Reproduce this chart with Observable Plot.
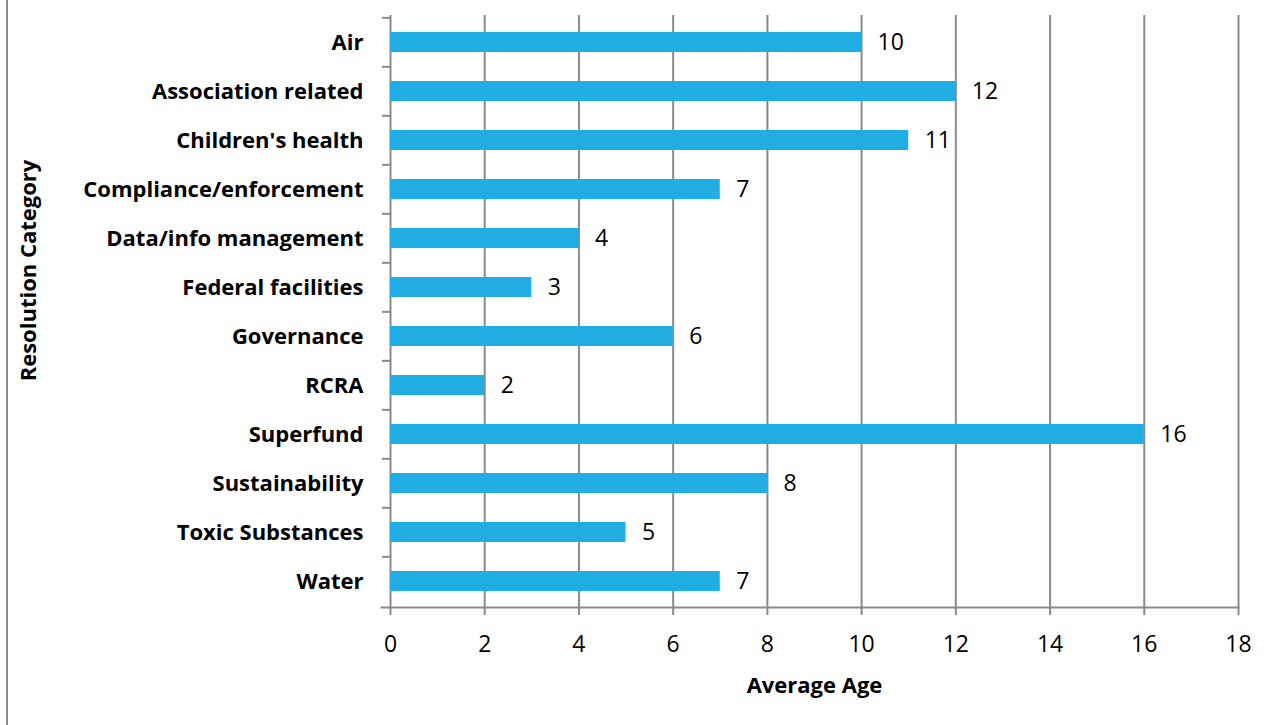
<!DOCTYPE html>
<html><head><meta charset="utf-8">
<script src="https://cdn.jsdelivr.net/npm/d3@7"></script>
<script src="https://cdn.jsdelivr.net/npm/@observablehq/plot@0.6"></script>
<style>
body{margin:0;background:#fff;}
#chart{position:relative;width:1271px;height:725px;overflow:hidden;}
#chart svg{position:absolute;left:0;top:0;}
#border{position:absolute;left:6px;top:0;width:2px;height:725px;background:#8a8a8a;}
</style></head><body><div id="chart"></div>
<script>
const categories = ["Air","Association related","Children's health","Compliance/enforcement","Data/info management","Federal facilities","Governance","RCRA","Superfund","Sustainability","Toxic Substances","Water"];
const values = [10,12,11,7,4,3,6,2,16,8,5,7];
const xTicks = [0,2,4,6,8,10,12,14,16,18];
const xLabel = "Average Age";
const yLabel = "Resolution Category";

const data = categories.map((c,i)=>({category:c, value:values[i]}));
const W=1271, H=725, mL=390, mR=33, mT=15, mB=118;
const grey="#8a8a8a";
const barColor="#1FADE4";
const step=(H-mT-mB)/categories.length;
const pInner=1-20/step;

const plot = Plot.plot({
  width:W, height:H, marginLeft:mL, marginRight:mR, marginTop:mT, marginBottom:mB,
  style:{fontFamily:"'Open Sans', sans-serif", fontSize:"20px", color:"#000", background:"transparent", overflow:"visible"},
  x:{domain:[0,18], label:null},
  y:{domain:categories, paddingInner:pInner, paddingOuter:pInner/2, label:null},
  marks:[
    Plot.gridX(xTicks, {stroke:grey, strokeOpacity:1, strokeWidth:2}),
    Plot.barX(data, {x:"value", y:"category", fill:barColor}),
    Plot.text(data, {x:"value", y:"category", text:d=>String(d.value), textAnchor:"start", dx:16, fontSize:23}),
    Plot.ruleY(categories, {y:d=>d, stroke:grey, strokeWidth:2, insetLeft:-8, insetRight:W-mL-mR, dy:-step/2}),
    Plot.frame({anchor:"bottom", stroke:grey, strokeWidth:2, insetLeft:-9}),
    Plot.axisX(xTicks, {tickSize:8, tickPadding:20, stroke:grey, strokeWidth:2, fontSize:23, label:null}),
    Plot.axisY({tickSize:0, tickPadding:27, fontWeight:"bold", fontSize:22, label:null}),
    Plot.text([xLabel], {frameAnchor:"bottom", dy:78, lineAnchor:"middle", fontWeight:"bold", fontSize:22}),
    Plot.text([yLabel], {frameAnchor:"left", dx:-362, dy:-41, rotate:-90, textAnchor:"middle", lineAnchor:"middle", fontWeight:"bold", fontSize:22})
  ]
});
const chart=document.getElementById("chart");
chart.appendChild(plot);
const b=document.createElement("div"); b.id="border"; chart.appendChild(b);
</script>
</body></html>
